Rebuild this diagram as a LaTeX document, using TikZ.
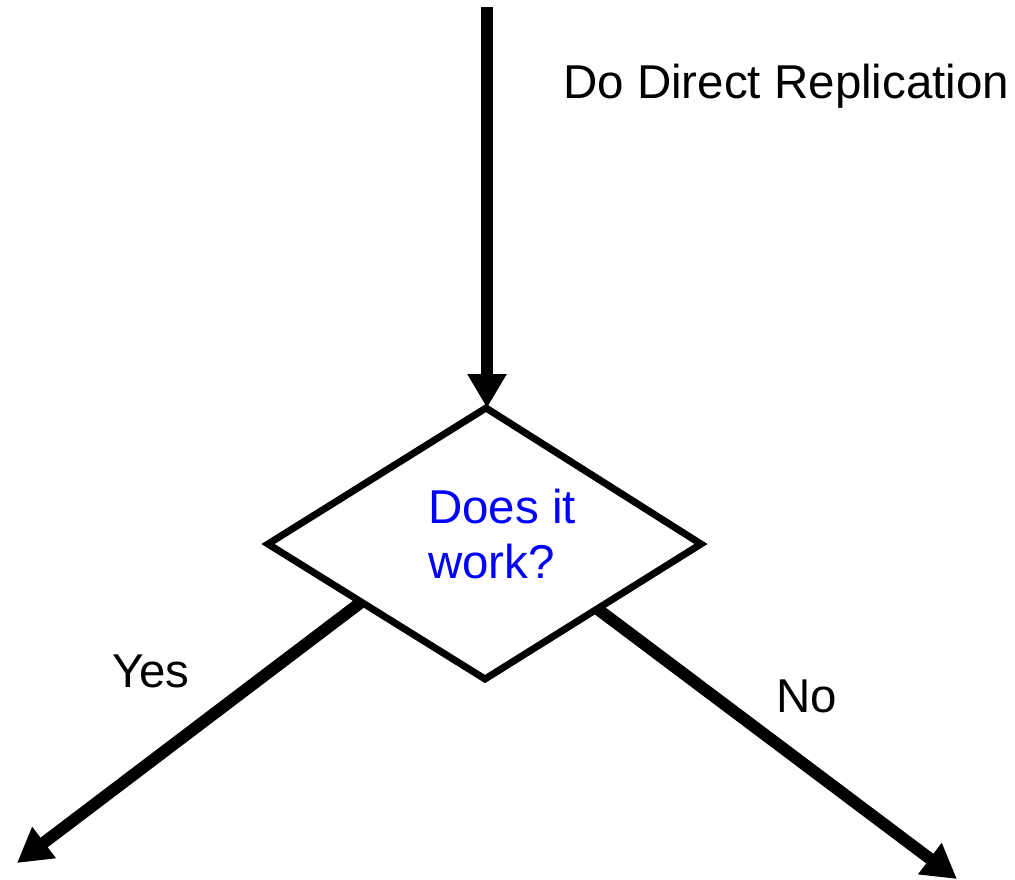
\documentclass[tikz,border=0pt]{standalone}
\usepackage{fontspec}
\setmainfont{Liberation Sans}
\usetikzlibrary{arrows.meta,calc}
\definecolor{qblue}{RGB}{0,0,255}
\tikzset{
  flow/.style={line width=12pt,-{Triangle[width=37pt,length=34pt]}},
  decision/.style={line width=7pt,line join=miter,miter limit=10},
  lbl/.style={inner sep=0pt,font=\fontsize{47.5}{55}\selectfont,anchor=base west}
}
\begin{document}
\begin{tikzpicture}[x=1pt,y=-1pt]
  \useasboundingbox (0,0) rectangle (1015,879);
  % decision diamond corners
  \coordinate (dt) at (486,408);
  \coordinate (dl) at (268,544);
  \coordinate (db) at (485,679);
  \coordinate (dr) at (701,544);
  \draw[decision] (dt) -- (dr) -- (db) -- (dl) -- cycle;
  \node[lbl,text=qblue,align=left] (q) at (428,578) {Does it\\work?};
  % incoming flow
  \coordinate (src) at (487,7);
  \draw[flow] (src) -- (dt -| src);
  \node[lbl] (do) at (563,98) {Do Direct Replication};
  % branches
  \coordinate (yesstart) at ($(dl)!0.43!(db)$);
  \coordinate (nostart) at ($(db)!0.52!(dr)$);
  \coordinate (yesend) at (17,863);
  \coordinate (noend) at (957,879);
  \draw[flow] (yesstart) -- (yesend);
  \draw[flow] (nostart) -- (noend);
  \node[lbl] (yes) at (112,687) {Yes};
  \node[lbl] (no) at (776,712) {No};
\end{tikzpicture}
\end{document}
